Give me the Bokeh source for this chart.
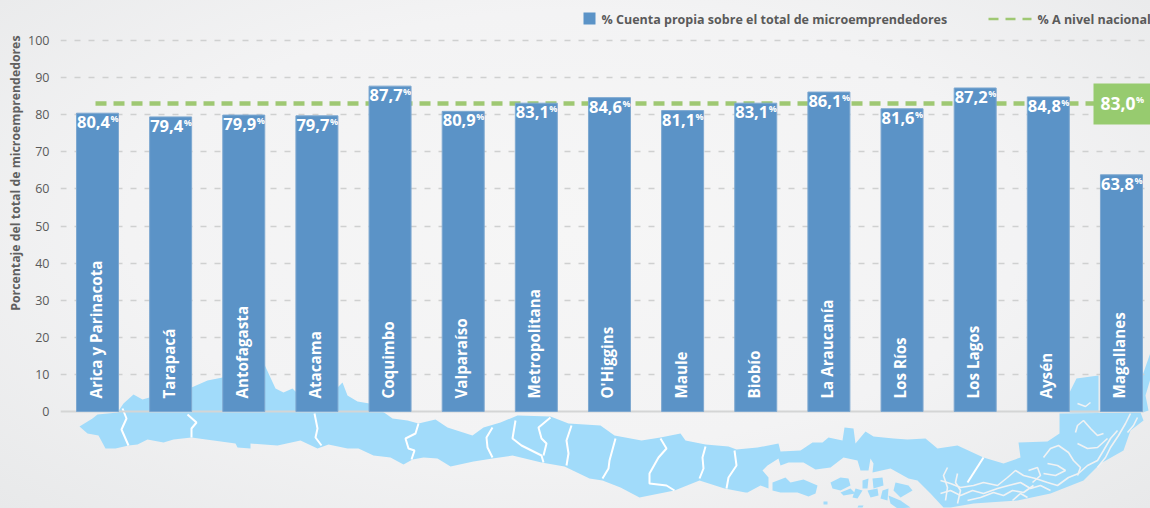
from math import pi
from bokeh.plotting import figure
from bokeh.models import ColumnDataSource, FixedTicker, Label, Range1d, Title
from bokeh.core.properties import value
from bokeh.embed import file_html
from bokeh.resources import INLINE

regions = ["Arica y Parinacota", "Tarapacá", "Antofagasta", "Atacama", "Coquimbo",
           "Valparaíso", "Metropolitana", "O'Higgins", "Maule", "Biobío",
           "La Araucanía", "Los Ríos", "Los Lagos", "Aysén", "Magallanes"]
shares = [80.4, 79.4, 79.9, 79.7, 87.7, 80.9, 83.1, 84.6, 81.1, 83.1, 86.1, 81.6, 87.2, 84.8, 63.8]
national = 83.0
y_ticks = [0, 10, 20, 30, 40, 50, 60, 70, 80, 90, 100]
series_name = "% Cuenta propia sobre el total de microemprendedores"
national_name = "% A nivel nacional"
y_title = "Porcentaje del total de microemprendedores"

# decorative silhouette of the country, traced in page pixels
map_main = [(79,426),(92,418),(97,414),(117,412),(123,403),(133,394),(142,399),(149,397),(191,387),(207,380),
            (222,377),(263,362),(275,388),(283,392),(292,388),(296,392),(337,387),(342,382),(347,395),(357,401),
            (369,403),(385,413),(392,418),(407,420),(418,423),(435,419),(447,427),(472,435),(483,427),(500,422),
            (517,415),(550,416),(568,423),(600,425),(614,435),(641,440),(660,437),(680,433),(685,440),(705,444),
            (728,446),(736,449),(757,447),(778,443),(780,451),(800,450),(812,442),(822,442),(828,437),(842,440),
            (844,427),(853,428),(855,443),(865,431),(873,436),(893,438),(907,439),(925,438),(937,448),(957,445),
            (983,457),(1003,463),(1020,457),(1018,442),(1047,441),(1059,433),(1059,413),(1140,412),(1143,420),
            (1130,430),(1123,450),(1100,463),(1083,480),(1050,493),(1017,500),(973,503),(950,507),(943,507),
            (930,493),(917,480),(908,478),(890,468),(872,472),(873,463),(870,458),(868,470),(860,470),(857,460),
            (843,457),(830,467),(815,469),(803,462),(788,462),(780,465),(778,458),(767,465),(762,470),(768,477),
            (768,488),(760,485),(747,492),(745,492),(724,488),(699,480),(674,490),(639,497),(620,487),(602,480),
            (589,478),(564,466),(541,462),(512,455),(492,458),(473,461),(450,466),(437,458),(423,457),(412,459),
            (403,464),(390,457),(373,455),(358,448),(347,448),(328,444),(317,448),(300,440),(277,445),(250,443),
            (250,448),(237,447),(235,443),(213,440),(191,437),(173,439),(163,442),(147,439),(137,444),(128,445),
            (115,448),(105,448),(98,435),(87,433)]
map_islands = [
    [(772,482),(785,477),(790,482),(803,479),(817,485),(815,493),(808,496),(797,492),(780,492),(772,490)],
    [(830,482),(840,477),(848,478),(850,485),(840,490),(832,488)],
    [(840,492),(850,488),(855,493),(843,495)],
    [(862,480),(868,478),(867,488),(862,488)],
    [(872,478),(882,477),(883,485),(873,488)],
    [(855,488),(862,490),(857,498),(852,497)],
    [(867,490),(877,488),(878,495),(870,497)],
    [(882,490),(888,488),(887,500),(880,498)],
    [(888,495),(900,500),(910,507),(897,508),(890,503)],
    [(895,482),(908,485),(912,490),(900,497),(893,490)],
    [(823,501),(827,501),(827,504),(823,504)],
    [(858,505),(863,505),(862,507),(857,507)],
    [(1069,412),(1069,392),(1076,378),(1098,375),(1098,412)],
    [(1142,375),(1150,352),(1150,378),(1145,395),(1148,410),(1142,412)],
]
map_channels = [
    [(940,480),(950,483),(960,487),(973,485),(983,482),(997,485),(1007,477),(1015,470),(1023,475),(1035,478),(1047,482),(1057,485),(1068,477),(1078,473),(1087,465),(1097,460),(1103,450),(1110,438),(1117,430)],
    [(940,493),(950,490),(960,495),(972,490),(983,493),(997,488),(1008,485),(1020,482),(1030,488),(1040,485),(1050,490)],
    [(967,500),(980,497),(993,492),(1003,495),(1012,490),(1023,492),(1033,485)],
    [(1043,457),(1050,448),(1058,445),(1068,452),(1073,460),(1080,467),(1077,475)],
    [(1075,432),(1077,425),(1083,420),(1090,428),(1097,435),(1103,433)],
    [(1077,443),(1087,448),(1097,447),(1107,438)],
    [(1130,413),(1125,423),(1118,435),(1110,447),(1105,457),(1097,467)],
    [(1047,463),(1057,465),(1065,470),(1055,475),(1043,473)],
    [(1028,470),(1037,467),(1040,475),(1032,482)],
    [(947,467),(943,475),(947,487),(945,500)],
    [(957,473),(955,482),(960,490),(957,503)],
    [(1137,417),(1133,425),(1127,432)],
    [(1012,500),(1020,493),(1027,497)],
    [(1077,403),(1085,406),(1090,402)],
]
map_borders = [
    [(122,408),(126,418),(121,429),(128,445)],
    [(187,414),(196,422),(191,428),(191,437)],
    [(314,413),(317,428),(315,437),(321,445)],
    [(418,423),(415,433),(405,438),(408,448),(414,450),(411,459)],
    [(492,427),(486,437),(487,447),(492,457)],
    [(515,420),(512,438),(521,445),(541,455),(543,462)],
    [(550,417),(538,427),(541,438),(546,443),(543,455)],
    [(571,425),(566,440),(568,453),(566,465)],
    [(615,438),(609,460),(608,468),(602,478)],
    [(660,438),(666,448),(658,457),(649,473),(649,483),(666,485),(674,490)],
    [(705,446),(702,457),(703,468),(699,478)],
    [(734,450),(736,465),(728,477),(726,488)],
    [(983,457),(967,482)],
]

W, H = 1150, 508
LEFT = 60
X0, DX = 97.0, 73.14      # page x of the first bar, spacing
Y0, DY = 411.0, 3.71      # page y of zero, pixels per unit

def dx(px):
    return (px - X0) / DX

def dy(py):
    return (Y0 - py) / DY

p = figure(width=W, height=H, output_backend="svg", toolbar_location=None,
           x_range=Range1d(dx(LEFT), dx(W)), y_range=Range1d(dy(H), dy(0)),
           min_border_left=LEFT, min_border_right=0, min_border_top=0, min_border_bottom=0)
p.styles = {"position": "absolute", "left": "0px", "top": "0px",
            "background": "radial-gradient(ellipse at 50% 45%, #f6f6f6 0%, #f3f3f4 55%, #e8e9ea 100%)"}
p.border_fill_color = None
p.background_fill_color = None
p.outline_line_color = None
p.xaxis.visible = False
p.xgrid.visible = False
p.yaxis.ticker = FixedTicker(ticks=y_ticks)
p.yaxis.axis_line_color = None
p.yaxis.major_tick_line_color = None
p.yaxis.minor_tick_line_color = None
p.yaxis.major_tick_out = 0
p.yaxis.minor_tick_out = 0
p.yaxis.major_label_standoff = 11
p.yaxis.major_label_text_font = "Open Sans"
p.yaxis.major_label_text_font_size = "12.5px"
p.yaxis.major_label_text_color = "#5a5a5a"
p.ygrid.ticker = FixedTicker(ticks=[t for t in y_ticks if t > 0])
p.ygrid.grid_line_color = "#cfd0d0"
p.ygrid.grid_line_dash = "6 8"
p.ygrid.grid_line_width = 1.5

# y title, placed in the left panel so it is not clipped by the frame
p.add_layout(Title(text=y_title, align="right", offset=35, standoff=3, text_font="Open Sans", text_font_style="bold",
                   text_font_size="12.3px", text_color="#5f5f5f"), "left")

# map
def patch(poly, **kw):
    p.patch([dx(a) for a, _ in poly], [dy(b) for _, b in poly], level="image", line_color=None, **kw)

patch(map_main, fill_color="#a1dbfa")
for isl in map_islands:
    patch(isl, fill_color="#a1dbfa")
p.multi_line([[dx(a) for a, _ in l] for l in map_channels], [[dy(b) for _, b in l] for l in map_channels],
             line_color="#f1f2f3", line_width=1.6, level="image")
p.multi_line([[dx(a) for a, _ in l] for l in map_borders], [[dy(b) for _, b in l] for l in map_borders],
             line_color="#ffffff", line_width=2, level="image")

xs = list(range(len(regions)))
src = ColumnDataSource(dict(x=xs, share=shares, region=regions,
                            label=[f"{v:.1f}".replace(".", ",") for v in shares],
                            pct=["%"] * len(shares)))

# zero line
p.line([dx(60), dx(1143)], [0, 0], line_color="#d4d5d5", line_width=2)

# national average
p.line([dx(95), dx(1095)], [national, national], line_color="#9fc873", line_width=4.5, line_dash="11 7")

# bars
p.vbar(x="x", top="share", bottom=0, width=42 / DX, source=src, fill_color="#5b93c7", line_color="#7ea8d0", line_width=1)

# value labels
font = value("Open Sans")
p.text(x="x", y="share", text="label", source=src, text_font=font, text_font_style="bold", text_font_size="16.5px",
       text_color="#ffffff", text_align="right", text_baseline="middle", x_offset=12.5, y_offset=9)
p.text(x="x", y="share", text="pct", source=src, text_font=font, text_font_style="bold", text_font_size="9px",
       text_color="#ffffff", text_align="left", text_baseline="middle", x_offset=13, y_offset=5.5)

# region names
p.text(x="x", y=0, text="region", source=src, text_font=font, text_font_style="bold", text_font_size="15.2px",
       text_color="#ffffff", text_align="left", text_baseline="middle", angle=pi / 2, x_offset=-2, y_offset=-13)

# national box
p.quad(left=[dx(1093)], right=[dx(W)], top=[dy(83)], bottom=[dy(124)], fill_color="#97cb6f", line_color=None)
p.add_layout(Label(x=dx(1100), y=national, text=f"{national:.1f}".replace(".", ","), text_font="Open Sans", text_font_style="bold",
                   text_font_size="17.5px", text_color="#ffffff", text_baseline="middle"))
p.add_layout(Label(x=dx(1135.5), y=dy(99), text="%", text_font="Open Sans", text_font_style="bold",
                   text_font_size="9px", text_color="#ffffff", text_baseline="middle"))

# legend
p.quad(left=[dx(583)], right=[dx(595)], top=[dy(12)], bottom=[dy(24)], fill_color="#5b93c7", line_color=None)
p.add_layout(Label(x=dx(601), y=dy(18.5), text=series_name, text_font="Open Sans", text_font_style="bold",
                   text_font_size="12.5px", text_color="#5a5a5a", text_baseline="middle"))
p.line([dx(988), dx(1031)], [dy(18.5), dy(18.5)], line_color="#9fc873", line_width=2.5, line_dash="10 7")
p.add_layout(Label(x=dx(1037), y=dy(18.5), text=national_name, text_font="Open Sans", text_font_style="bold",
                   text_font_size="12.5px", text_color="#5a5a5a", text_baseline="middle"))

open("out.html", "w").write(file_html(p, INLINE))
